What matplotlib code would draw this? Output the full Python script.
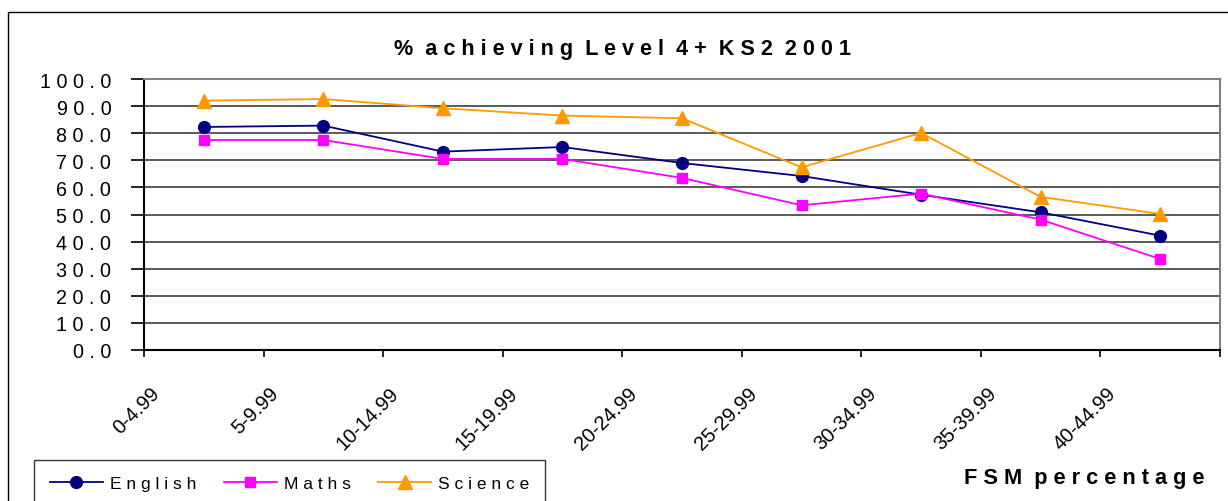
import matplotlib
matplotlib.use("Agg")
import matplotlib.pyplot as plt
from matplotlib.patches import Rectangle
from matplotlib.lines import Line2D
from matplotlib.transforms import ScaledTranslation

plt.rcParams['font.family'] = ['Liberation Sans', 'DejaVu Sans']

# ---- data ----
categories = ["0-4.99", "5-9.99", "10-14.99", "15-19.99", "20-24.99",
              "25-29.99", "30-34.99", "35-39.99", "40-44.99"]
english = [82.3, 82.8, 73.2, 74.9, 69.0, 64.2, 57.3, 50.8, 42.2]
maths = [77.5, 77.5, 70.5, 70.5, 63.5, 53.4, 57.7, 48.1, 33.6]
science = [92.0, 92.6, 89.2, 86.5, 85.5, 67.4, 80.1, 56.5, 50.2]
y_ticks = [0, 10, 20, 30, 40, 50, 60, 70, 80, 90, 100]
title = "% achieving Level 4+ KS2 2001"
xlabel = "FSM percentage"
series_names = ["English", "Maths", "Science"]


def spaced(s):
    return "  ".join(" ".join(w) for w in s.split(" "))


W, H = 1228, 502
fig = plt.figure(figsize=(W / 100, H / 100), dpi=100)
fig.patch.set_facecolor("white")

# outer chart border
fig.add_artist(Rectangle((8 / W, -0.2), 1.5, 1.2 - 13 / H, transform=fig.transFigure,
                         fill=False, edgecolor="black", linewidth=1.0))

ax = fig.add_axes([144 / W, 1 - 351 / H, (1220 - 144) / W, (351 - 80) / H])

n = len(categories)
xs = [i + 0.5 for i in range(n)]

for v in y_ticks[1:-1]:
    ax.axhline(v, color="#2e2e2e", linewidth=1.1, zorder=1)

ax.plot(xs, english, color="#000080", linewidth=1.3, marker="o", markersize=8.5,
        markerfacecolor="#000080", markeredgecolor="#000080", zorder=3)
ax.plot(xs, maths, color="#FF00FF", linewidth=1.3, marker="s", markersize=7.5,
        markerfacecolor="#FF00FF", markeredgecolor="#FF00FF", zorder=3)
ax.plot(xs, science, color="#FF9900", linewidth=1.3, marker="^", markersize=9.5,
        markerfacecolor="#FF9900", markeredgecolor="#FF9900", zorder=3)

ax.set_xlim(0, n)
ax.set_ylim(0, 100)

ax.set_yticks(y_ticks)
ax.set_yticklabels([spaced(f"{v:.1f}") for v in y_ticks], fontsize=14.2)
ax.tick_params(axis="y", direction="out", length=9.5, width=1.2, pad=14, colors="black")

ax.set_xticks(range(n + 1))
ax.set_xticklabels(categories + [""], fontsize=14.5, rotation=45, ha="right", va="top")
ax.tick_params(axis="x", direction="out", length=5, width=1.2, pad=19)
off = ScaledTranslation(19 / 100, 0, fig.dpi_scale_trans)
for lab in ax.get_xticklabels():
    lab.set_transform(lab.get_transform() + off)

for side in ("left", "bottom"):
    ax.spines[side].set_color("black")
    ax.spines[side].set_linewidth(1.5)
for side in ("top", "right"):
    ax.spines[side].set_color("#808080")
    ax.spines[side].set_linewidth(1.5)

fig.text(623 / W, 1 - 55 / H, spaced(title), ha="center", va="baseline",
         fontsize=15.6, fontweight="bold")
fig.text(1205 / W, 1 - 484 / H, spaced(xlabel), ha="right", va="baseline",
         fontsize=15.7, fontweight="bold")

handles = [
    Line2D([], [], color="#000080", linewidth=1.3, marker="o", markersize=8.5),
    Line2D([], [], color="#FF00FF", linewidth=1.3, marker="s", markersize=7.5),
    Line2D([], [], color="#FF9900", linewidth=1.3, marker="^", markersize=9.5),
]
leg = fig.legend(handles, [spaced(s) for s in series_names], ncol=3,
                 loc="upper left", bbox_to_anchor=(34 / W, 1 - 461 / H),
                 bbox_transform=fig.transFigure, fontsize=12.5, frameon=True,
                 fancybox=False, shadow=False, handlelength=3.05, handletextpad=0.4,
                 columnspacing=1.6, borderpad=0.9, borderaxespad=0)
leg.get_frame().set_edgecolor("black")
leg.get_frame().set_linewidth(1.0)

fig.savefig("out.png", dpi=100, facecolor="white")
